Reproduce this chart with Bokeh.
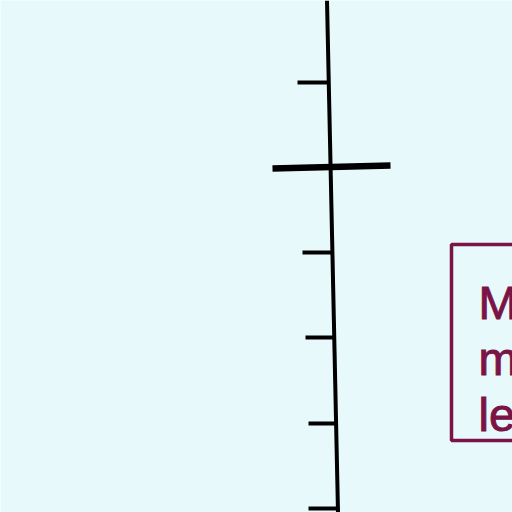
from bokeh.core.properties import value
from bokeh.embed import file_html
from bokeh.models import Range1d
from bokeh.plotting import figure
from bokeh.resources import INLINE

# scale spine (top and bottom end points)
spine_x = [326.5, 337.5]
spine_y = [0, 512]

# ticks along the scale
tick_left = [297, 272, 302, 305, 308, 308]
tick_right = [329, 390, 332, 334, 336, 339]
tick_y_left = [82, 168, 252, 337, 423, 508]
tick_y_right = [82, 165, 252, 337, 423, 508]
tick_width = [4, 6.5, 4, 4, 4, 4]

# label box and its text lines
box_left, box_right, box_top, box_bottom = 451, 540, 244, 440
label_lines = ["M", "m", "le"]
label_base = [302, 358, 414]

bg = "#e8f9fc"
maroon = "#7a1446"

p = figure(width=512, height=512, output_backend="svg", toolbar_location=None,
           x_range=Range1d(0, 512), y_range=Range1d(512, 0),
           background_fill_color=bg, border_fill_color=bg, min_border=0)
p.axis.visible = False
p.grid.visible = False
p.outline_line_color = None

p.line(spine_x, spine_y, line_color="black", line_width=4)
p.segment(x0=tick_left, y0=tick_y_left, x1=tick_right, y1=tick_y_right,
          line_color="black", line_width=tick_width)

p.quad(left=[box_left], right=[box_right], top=[box_top], bottom=[box_bottom],
       fill_color=bg, line_color=maroon, line_width=3.5)
p.text(x=[478] * len(label_lines), y=label_base, text=label_lines,
       text_font=value("Arial"), text_font_size="47px",
       text_outline_color=maroon,
       text_color=maroon, text_baseline="alphabetic", text_align="left")

open("out.html", "w").write(file_html(p, INLINE))
